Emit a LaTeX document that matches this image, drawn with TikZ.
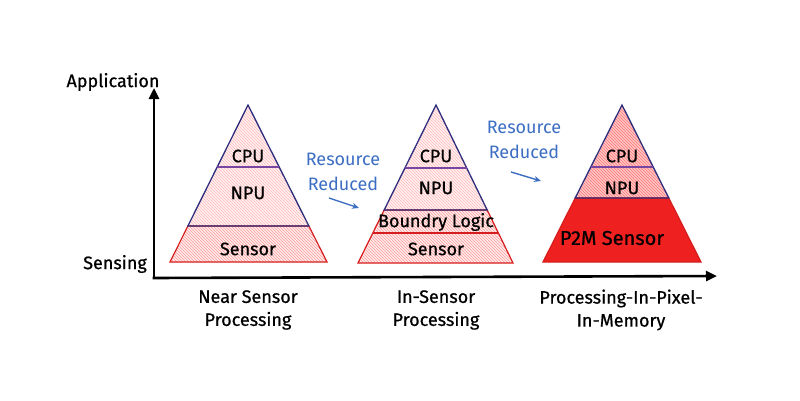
\documentclass[tikz,border=0pt]{standalone}
\usepackage{fontspec}
\setmainfont{Fira Sans}[FakeBold=0.7]
\newfontfamily\thinlabelfont{Fira Sans}
\usetikzlibrary{patterns,calc,arrows.meta}
\definecolor{navyc}{RGB}{45,45,125}
\definecolor{purplec}{RGB}{120,70,160}
\definecolor{redc}{RGB}{215,30,30}
\definecolor{solidred}{RGB}{238,32,32}
\definecolor{bluetxt}{RGB}{60,110,195}
\newcommand\pyrband[6]{%
  \path[#6] ($(#1)!#4!(#2)$) -- ($(#1)!#4!(#3)$) -- ($(#1)!#5!(#3)$) -- ($(#1)!#5!(#2)$) -- cycle;}
\tikzset{
  lbl/.style={font=\fontsize{18}{20}\selectfont, text=black, inner sep=1pt},
  biglbl/.style={font=\fontsize{20}{22}\selectfont, text=black, inner sep=1pt},
  axlbl/.style={font=\fontsize{18}{23}\selectfont, align=center, inner sep=1pt},
  bluelbl/.style={font=\thinlabelfont\fontsize{18}{25}\selectfont, text=bluetxt, align=center, inner sep=1pt},
  paleband/.style={fill=red!5, postaction={pattern=north west lines, pattern color=red!28}},
  redband/.style={fill=red!7, postaction={pattern=north west lines, pattern color=red!40}},
  pinkband/.style={fill=red!22, postaction={pattern=north west lines, pattern color=red!55}},
  axis/.style={line width=2.6pt, -{Triangle[length=11pt,width=10pt]}},
  bluearrow/.style={bluetxt, line width=1.4pt, -{Stealth[length=7pt,width=6pt,open]}},
}
\begin{document}
\begin{tikzpicture}[x=1pt,y=-1pt]
\useasboundingbox (0,0) rectangle (800,400);
\fill[white] (0,0) rectangle (800,400);
% ---------- pyramid 1 ----------
\coordinate (A1) at (248,105);
\coordinate (L1) at (170,262);
\coordinate (R1) at (327,262);
\pyrband{A1}{L1}{R1}{0}{0.395}{paleband}
\pyrband{A1}{L1}{R1}{0.395}{0.771}{paleband}
\pyrband{A1}{L1}{R1}{0.771}{1}{redband}
\pyrband{A1}{L1}{R1}{0.771}{1}{draw=redc, line width=1.2pt}
\pyrband{A1}{L1}{R1}{0}{0.771}{draw=navyc, line width=1.3pt}
\draw[purplec, line width=1.2pt] ($(A1)!0.395!(L1)$) -- ($(A1)!0.395!(R1)$);
\node[lbl] (cpu1) at (248,156) {CPU};
\node[lbl] (npu1) at (248,193) {NPU};
\node[lbl] (sen1) at (248,249) {Sensor};
% ---------- pyramid 2 ----------
\coordinate (A2) at (436,105);
\coordinate (L2) at (358,263);
\coordinate (R2) at (513,263);
\pyrband{A2}{L2}{R2}{0}{0.399}{paleband}
\pyrband{A2}{L2}{R2}{0.399}{0.665}{paleband}
\pyrband{A2}{L2}{R2}{0.665}{0.81}{redband}
\pyrband{A2}{L2}{R2}{0.81}{1}{redband}
\pyrband{A2}{L2}{R2}{0.665}{1}{draw=redc, line width=1.2pt}
\draw[redc, line width=1.2pt] ($(A2)!0.81!(L2)$) -- ($(A2)!0.81!(R2)$);
\pyrband{A2}{L2}{R2}{0}{0.665}{draw=navyc, line width=1.3pt}
\draw[purplec, line width=1.2pt] ($(A2)!0.399!(L2)$) -- ($(A2)!0.399!(R2)$);
\node[lbl] (cpu2) at (436,156) {CPU};
\node[lbl] (npu2) at (436,188) {NPU};
\node[lbl] (bl2) at (436,222) {Boundry Logic};
\node[lbl] (sen2) at (436,249) {Sensor};
% ---------- pyramid 3 ----------
\coordinate (A3) at (622,105);
\coordinate (L3) at (543,262);
\coordinate (R3) at (701,262);
\pyrband{A3}{L3}{R3}{0}{0.395}{pinkband}
\pyrband{A3}{L3}{R3}{0.395}{0.592}{pinkband}
\pyrband{A3}{L3}{R3}{0.592}{1}{fill=solidred, draw=redc, line width=1.2pt}
\pyrband{A3}{L3}{R3}{0}{0.592}{draw=navyc, line width=1.3pt}
\draw[purplec, line width=1.2pt] ($(A3)!0.395!(L3)$) -- ($(A3)!0.395!(R3)$);
\node[lbl] (cpu3) at (622,156) {CPU};
\node[lbl] (npu3) at (622,188) {NPU};
\node[biglbl] (p2m3) at (612,238) {P2M Sensor};
% ---------- axes ----------
\coordinate (O) at (154,278);
\coordinate (Ytop) at (154,88);
\coordinate (Xend) at (717,276);
\draw[axis] (O) -- (Ytop);
\draw[axis] ([xshift=-1.3pt]O) -- (Xend);
\node[axlbl] (app) at (113,82) {Application};
\node[axlbl] (sens) at (115,264) {Sensing};
\node[axlbl] (x1) at (248,310) {Near Sensor\\Processing};
\node[axlbl] (x2) at (436,310) {In-Sensor\\Processing};
\node[axlbl] (x3) at (621,310) {Processing-In-Pixel-\\In-Memory};
% ---------- resource reduced ----------
\node[bluelbl] (rr1) at (343,172) {Resource\\Reduced};
\coordinate (r1s) at (329,198);
\coordinate (r1e) at (359,208);
\draw[bluearrow] (r1s) -- (r1e);
\node[bluelbl] (rr2) at (524,140) {Resource\\Reduced};
\coordinate (r2s) at (511,172);
\coordinate (r2e) at (541,181);
\draw[bluearrow] (r2s) -- (r2e);
\end{tikzpicture}
\end{document}
